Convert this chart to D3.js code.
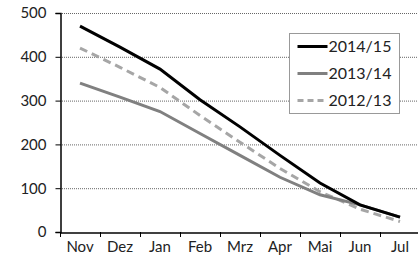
<!DOCTYPE html>
<html>
<head>
<meta charset="utf-8">
<script src="https://cdn.jsdelivr.net/npm/d3@7"></script>
<style>
  body { margin: 0; background: #fff; }
  svg text { font-family: "Lato", "Noto Sans", sans-serif; font-size: 15px; fill: #222; }
</style>
</head>
<body>
<div id="chart"></div>
<script>
// data
const months = ["Nov", "Dez", "Jan", "Feb", "Mrz", "Apr", "Mai", "Jun", "Jul"];
const yTicks = [0, 100, 200, 300, 400, 500];
const s2014 = [470, 422, 372, 302, 240, 175, 112, 62, 34];
const s2013 = [340, 308, 275, 225, 175, 125, 85, 62, 34];
const s2012 = [420, 376, 330, 266, 205, 145, 92, 52, 24];

const series = [
  { name: "2014/15", values: s2014, color: "#000", dash: null },
  { name: "2013/14", values: s2013, color: "#808080", dash: null },
  { name: "2012/13", values: s2012, color: "#a6a6a6", dash: "8,5" },
];

const width = 418, height = 263;
const mLeft = 60, mRight = 420, mTop = 13, mBottom = 232;

const svg = d3.select("#chart").append("svg")
  .attr("width", width).attr("height", height);

//----------------------------SCALES----------------------------//
const x = d3.scaleBand().domain(months).range([mLeft, mRight]);
const y = d3.scaleLinear().domain([0, 500]).range([mBottom, mTop]);

//-----------------------------GRID-----------------------------//
svg.append("g").selectAll("line")
  .data(yTicks.filter(d => d > 0)).enter().append("line")
  .attr("x1", mLeft).attr("x2", width)
  .attr("y1", d => y(d) + 0.5).attr("y2", d => y(d) + 0.5)
  .attr("stroke", "#666").attr("stroke-width", 1)
  .attr("stroke-dasharray", "1,1");

//-----------------------------AXES-----------------------------//
const yAxis = svg.append("g")
  .attr("transform", "translate(" + (mLeft + 0.5) + ",0)")
  .call(d3.axisLeft(y).tickValues(yTicks).tickSize(5).tickPadding(9));
yAxis.select(".domain").attr("stroke", "#000").attr("stroke-width", 1.5);
yAxis.selectAll(".tick line").attr("stroke", "#000");

const xAxis = svg.append("g")
  .attr("transform", "translate(0," + (mBottom + 0.5) + ")")
  .call(d3.axisBottom(x).tickSize(0).tickPadding(6));
xAxis.select(".domain").attr("stroke", "#000").attr("stroke-width", 1.5);
xAxis.selectAll(".tick text").attr("dy", "0.9em");

// tick marks between the categories
svg.append("g").selectAll("line")
  .data(months).enter().append("line")
  .attr("x1", d => Math.round(x(d)) + 0.5).attr("x2", d => Math.round(x(d)) + 0.5)
  .attr("y1", mBottom).attr("y2", mBottom + 5)
  .attr("stroke", "#000");

svg.selectAll(".tick text").style("font-size", "15px");

//----------------------------LINES-----------------------------//
const line = d3.line()
  .x((d, i) => x(months[i]) + x.bandwidth() / 2)
  .y(d => y(d));

svg.append("g").selectAll("path")
  .data(series.slice().reverse()).enter().append("path")
  .attr("d", d => line(d.values))
  .attr("fill", "none")
  .attr("stroke", d => d.color)
  .attr("stroke-width", 3)
  .attr("stroke-dasharray", d => d.dash);

//----------------------------LEGEND----------------------------//
const lg = svg.append("g").attr("transform", "translate(289.5,33.5)");
lg.append("rect").attr("width", 110).attr("height", 80)
  .attr("fill", "#fff").attr("stroke", "#999");
const items = lg.selectAll("g.item").data(series).enter().append("g")
  .attr("transform", (d, i) => "translate(0," + (13 + i * 27) + ")");
items.append("line")
  .attr("x1", 8).attr("x2", 38)
  .attr("stroke", d => d.color).attr("stroke-width", 3)
  .attr("stroke-dasharray", d => d.dash ? "6,4" : null);
items.append("text")
  .attr("x", 39).attr("dy", "0.35em")
  .style("font-size", "16px")
  .text(d => d.name);
</script>
</body>
</html>
